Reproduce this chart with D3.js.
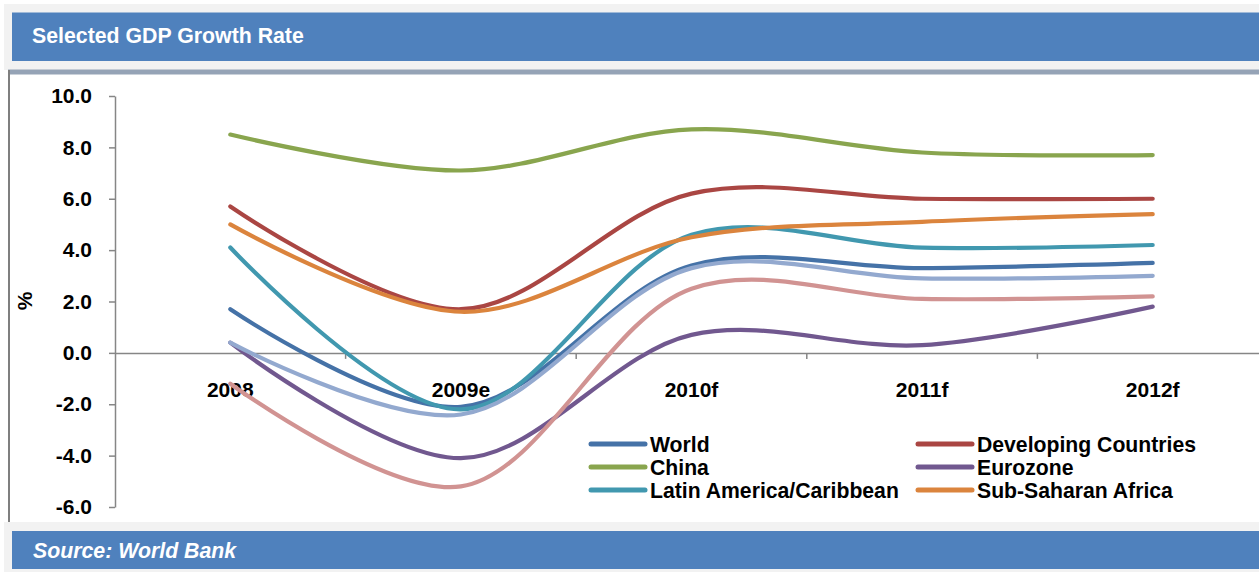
<!DOCTYPE html>
<html>
<head>
<meta charset="utf-8">
<script src="https://cdn.jsdelivr.net/npm/d3@7"></script>
<style>
  body { margin: 0; background: #ffffff; }
  text { font-family: "Liberation Sans", Arial, sans-serif; }
</style>
</head>
<body>
<script>
// categories and values
const categories = ["2008", "2009e", "2010f", "2011f", "2012f"];
const world = [1.7, -2.1, 3.4, 3.3, 3.5];
const developing = [5.7, 1.7, 6.2, 6.0, 6.0];
const china = [8.5, 7.1, 8.7, 7.8, 7.7];
const eurozone = [0.4, -4.1, 0.7, 0.3, 1.8];
const latinAmerica = [4.1, -2.2, 4.6, 4.1, 4.2];
const subSaharan = [5.0, 1.6, 4.5, 5.1, 5.4];
// two more lines are drawn but have no legend entry
const unlabelledBlue = [0.4, -2.4, 3.3, 2.9, 3.0];
const unlabelledPink = [-1.2, -5.2, 2.5, 2.1, 2.2];
const yTicks = [-6, -4, -2, 0, 2, 4, 6, 8, 10];

const series = [
  { name: "World", values: world, color: "#4572A7", legend: true },
  { name: "Developing Countries", values: developing, color: "#AA4643", legend: true },
  { name: "China", values: china, color: "#89A54E", legend: true },
  { name: "Eurozone", values: eurozone, color: "#71588F", legend: true },
  { name: "Latin America/Caribbean", values: latinAmerica, color: "#4198AF", legend: true },
  { name: "Sub-Saharan Africa", values: subSaharan, color: "#DB843D", legend: true },
  { name: "unlabelled blue", values: unlabelledBlue, color: "#93A9CF", legend: false },
  { name: "unlabelled pink", values: unlabelledPink, color: "#D19392", legend: false }
];

const width = 1259;
const height = 572;
const plot = { left: 115, right: 1268, top: 96, bottom: 507 };

const svg = d3.select("body")
  .append("svg")
  .attr("width", width)
  .attr("height", height);

// frame: header, footer, grey bands
svg.append("rect").attr("x", 4).attr("y", 4).attr("width", width).attr("height", 66).attr("fill", "#f2f2f2");
svg.append("rect").attr("x", 12).attr("y", 12.5).attr("width", width).attr("height", 48.5).attr("fill", "#4F81BD");
svg.append("rect").attr("x", 8).attr("y", 69.5).attr("width", width).attr("height", 5).attr("fill", "#95a3b6");
svg.append("line").attr("x1", 9).attr("x2", 9).attr("y1", 70).attr("y2", 522)
  .attr("stroke", "#7f7f7f").attr("stroke-width", 2);
svg.append("rect").attr("x", 4).attr("y", 522).attr("width", width).attr("height", 50).attr("fill", "#f2f2f2");
svg.append("rect").attr("x", 12).attr("y", 531).attr("width", width).attr("height", 38).attr("fill", "#4F81BD");

svg.append("text")
  .attr("x", 32).attr("y", 43)
  .attr("fill", "#ffffff")
  .attr("font-size", 21.3)
  .attr("font-weight", "bold")
  .text("Selected GDP Growth Rate");

svg.append("text")
  .attr("x", 33).attr("y", 558)
  .attr("fill", "#ffffff")
  .attr("font-size", 21.3)
  .attr("font-weight", "bold")
  .attr("font-style", "italic")
  .text("Source: World Bank");

// scales
const x = d3.scaleBand()
  .domain(categories)
  .range([plot.left, plot.right]);

const y = d3.scaleLinear()
  .domain([-6, 10])
  .range([plot.bottom, plot.top]);

// y axis
const yAxis = svg.append("g")
  .attr("transform", `translate(${plot.left}, 0)`)
  .call(d3.axisLeft(y)
    .tickValues(yTicks)
    .tickFormat(d => d.toFixed(1))
    .tickSize(6)
    .tickSizeOuter(0)
    .tickPadding(17));

yAxis.select(".domain").attr("stroke", "#868686").attr("stroke-width", 1.5);
yAxis.selectAll(".tick line").attr("stroke", "#868686").attr("stroke-width", 1.5);
yAxis.selectAll(".tick text")
  .attr("font-size", 21)
  .attr("font-weight", "bold")
  .attr("fill", "#000")
  .style("font-family", "'Liberation Sans', Arial, sans-serif");

// x axis sits on the zero line
const xAxis = svg.append("g")
  .attr("transform", `translate(0, ${y(0)})`)
  .call(d3.axisBottom(x)
    .tickSize(0)
    .tickPadding(29));

xAxis.select(".domain").attr("stroke", "#868686").attr("stroke-width", 1.5);
xAxis.selectAll(".tick text")
  .attr("font-size", 21)
  .attr("font-weight", "bold")
  .attr("fill", "#000")
  .style("font-family", "'Liberation Sans', Arial, sans-serif");

// tick marks between categories
xAxis.selectAll(".band-tick")
  .data(categories.slice(1).concat(["end"]))
  .enter()
  .append("line")
  .attr("x1", d => d === "end" ? plot.right : x(d))
  .attr("x2", d => d === "end" ? plot.right : x(d))
  .attr("y1", 0)
  .attr("y2", 6)
  .attr("stroke", "#868686")
  .attr("stroke-width", 1.5);

svg.append("text")
  .attr("transform", "translate(32, 301) rotate(-90)")
  .attr("text-anchor", "middle")
  .attr("font-size", 21)
  .attr("font-weight", "bold")
  .text("%");

// lines
const line = d3.line()
  .x((d, i) => x(categories[i]) + x.bandwidth() / 2)
  .y(d => y(d))
  .curve(d3.curveCatmullRom.alpha(0.5));

svg.selectAll(".series")
  .data(series)
  .enter()
  .append("path")
  .attr("class", "series")
  .attr("d", d => line(d.values))
  .attr("fill", "none")
  .attr("stroke", d => d.color)
  .attr("stroke-width", 4.2)
  .attr("stroke-linecap", "round");

// legend, two columns
const legendItems = series.filter(d => d.legend);
const legend = svg.selectAll(".legend")
  .data(legendItems)
  .enter()
  .append("g")
  .attr("class", "legend")
  .attr("transform", (d, i) => `translate(${i % 2 === 0 ? 591 : 918}, ${444 + Math.floor(i / 2) * 23})`);

legend.append("line")
  .attr("x1", 0).attr("x2", 54)
  .attr("stroke", d => d.color)
  .attr("stroke-width", 5)
  .attr("stroke-linecap", "round");

legend.append("text")
  .attr("x", 59)
  .attr("dy", "0.36em")
  .attr("font-size", 21.2)
  .attr("font-weight", "bold")
  .text(d => d.name);
</script>
</body>
</html>
